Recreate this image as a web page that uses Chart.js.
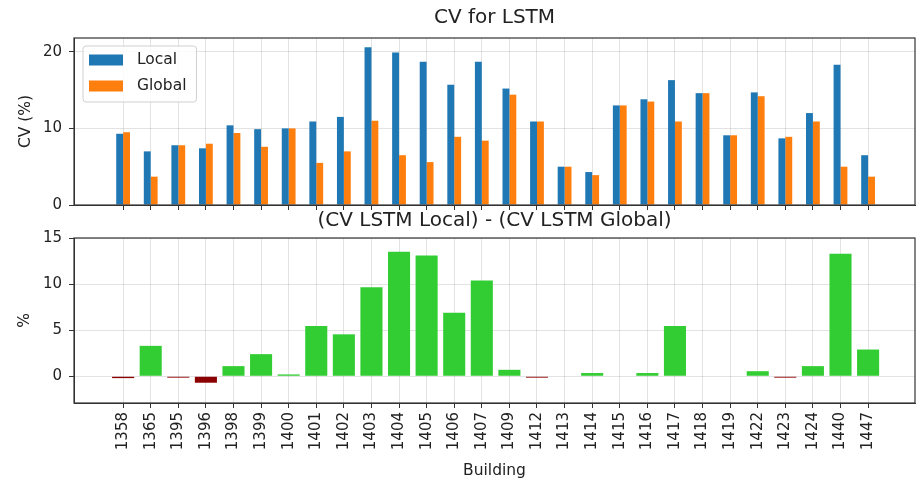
<!DOCTYPE html>
<html>
<head>
<meta charset="utf-8">
<script src="https://cdn.jsdelivr.net/npm/chart.js@4.4.1/dist/chart.umd.min.js"></script>
<style>
  body { margin: 0; background: #fff; }
  #wrap { position: relative; width: 918px; height: 484px; }
  canvas { position: absolute; left: 0; }
  #cvChart { top: 0; }
  #diffChart { top: 208px; }
</style>
</head>
<body>
<div id="wrap">
  <canvas id="cvChart" width="918" height="210"></canvas>
  <canvas id="diffChart" width="918" height="276"></canvas>
</div>
<script>
// Buildings on the x axis (shared by both panels)
const buildings = ['1358', '1365', '1395', '1396', '1398', '1399', '1400', '1401', '1402', '1403',
  '1404', '1405', '1406', '1407', '1409', '1412', '1413', '1414', '1415', '1416',
  '1417', '1418', '1419', '1422', '1423', '1424', '1440', '1447'];

// CV (%)
const cvLocal = [9.3, 7.0, 7.8, 7.4, 10.4, 9.9, 10.0, 10.9, 11.5, 20.6,
  19.9, 18.7, 15.7, 18.7, 15.2, 10.9, 5.0, 4.3, 13.0, 13.8,
  16.3, 14.6, 9.1, 14.7, 8.7, 12.0, 18.3, 6.5];
const cvGlobal = [9.5, 3.7, 7.8, 8.0, 9.4, 7.6, 10.0, 5.5, 7.0, 11.0,
  6.5, 5.6, 8.9, 8.4, 14.4, 10.9, 5.0, 3.9, 13.0, 13.5,
  10.9, 14.6, 9.1, 14.2, 8.9, 10.9, 5.0, 3.7];

// Local - Global
const cvDiff = [-0.2, 3.3, -0.15, -0.7, 1.1, 2.4, 0.2, 5.45, 4.55, 9.65,
  13.5, 13.1, 6.9, 10.4, 0.7, -0.15, 0, 0.35, 0, 0.35,
  5.45, 0, 0, 0.55, -0.15, 1.1, 13.3, 2.9];

const cvTicks = [0, 10, 20];
const diffTicks = [0, 5, 10, 15];

Chart.defaults.font.family = "'DejaVu Sans', sans-serif";
Chart.defaults.color = '#222';

const gridColor = 'rgba(0,0,0,0.11)';
const spineColor = '#333';
const xMin = -1.78, xMax = 28.7;

function indexTicks(scale) {
  scale.ticks = buildings.map((b, i) => ({ value: i }));
}
function fixedTicks(list) {
  return scale => { scale.ticks = list.map(v => ({ value: v })); };
}
function noOverhang(s) {
  s.paddingTop = 0; s.paddingBottom = 0; s.paddingLeft = 0; s.paddingRight = 0;
}

// matplotlib-like box around the axes
const frame = {
  id: 'frame',
  afterDraw(chart) {
    const { ctx, chartArea: a } = chart;
    ctx.save();
    ctx.strokeStyle = spineColor;
    ctx.lineWidth = 1.2;
    ctx.strokeRect(a.left, a.top, a.right - a.left, a.bottom - a.top);
    ctx.restore();
  }
};

// legend drawn inside the upper-left corner of the plot
const insideLegend = {
  id: 'insideLegend',
  afterDatasetsDraw(chart) {
    const { ctx, chartArea: a } = chart;
    const sets = chart.data.datasets;
    ctx.save();
    ctx.font = "15.5px 'DejaVu Sans', sans-serif";
    const textW = Math.max(...sets.map(d => ctx.measureText(d.label).width));
    const left = a.left + 9, top = a.top + 8;
    const w = 54 + textW + 10, h = 8 + sets.length * 26 - 4;
    ctx.beginPath();
    ctx.roundRect(left, top, w, h, 3);
    ctx.fillStyle = 'rgba(255,255,255,0.85)';
    ctx.fill();
    ctx.strokeStyle = '#d0d0d0';
    ctx.lineWidth = 1;
    ctx.stroke();
    sets.forEach((d, i) => {
      const cy = top + 14 + i * 26;
      ctx.fillStyle = d.backgroundColor;
      ctx.fillRect(left + 6, cy - 5.5, 34, 11);
      ctx.fillStyle = '#222';
      ctx.textBaseline = 'middle';
      ctx.fillText(d.label, left + 54, cy);
    });
    ctx.restore();
  }
};

new Chart(document.getElementById('cvChart'), {
  type: 'bar',
  data: {
    datasets: [
      {
        label: 'Local',
        data: cvLocal.map((v, i) => ({ x: i, y: v })),
        backgroundColor: '#1f77b4',
        borderWidth: 0
      },
      {
        label: 'Global',
        data: cvGlobal.map((v, i) => ({ x: i, y: v })),
        backgroundColor: '#ff7f0e',
        borderWidth: 0
      }
    ]
  },
  options: {
    responsive: false,
    animation: false,
    events: [],
    categoryPercentage: 0.5,
    barPercentage: 1.0,
    layout: { padding: { left: 0, right: 3, top: 0, bottom: 0 } },
    scales: {
      x: {
        type: 'linear',
        min: xMin,
        max: xMax,
        offset: false,
        afterBuildTicks: indexTicks,
        afterFit: s => { s.height = 5; noOverhang(s); },
        ticks: { display: false },
        grid: { color: gridColor, offset: false, tickLength: 5, tickColor: spineColor },
        border: { color: spineColor }
      },
      y: {
        min: 0,
        max: 21.8,
        afterBuildTicks: fixedTicks(cvTicks),
        afterFit: s => { s.width = 74; noOverhang(s); },
        ticks: { padding: 7, font: { size: 15 } },
        grid: { color: gridColor, tickLength: 5, tickColor: spineColor },
        border: { color: spineColor },
        title: {
          display: true,
          text: 'CV (%)',
          font: { size: 15.5 },
          padding: { top: 16.5, bottom: 0 }
        }
      }
    },
    plugins: {
      legend: { display: false },
      tooltip: { enabled: false },
      title: {
        display: true,
        text: 'CV for LSTM',
        fullSize: false,
        font: { size: 20, weight: 'normal' },
        padding: { top: 6, bottom: 8 }
      }
    }
  },
  plugins: [insideLegend, frame]
});

new Chart(document.getElementById('diffChart'), {
  type: 'bar',
  data: {
    datasets: [
      {
        label: '(CV LSTM Local) - (CV LSTM Global)',
        data: cvDiff.map((v, i) => ({ x: i, y: v })),
        backgroundColor: ctx => (ctx.parsed && ctx.parsed.y < 0) ? '#8b0000' : '#32cd32',
        borderWidth: 0
      }
    ]
  },
  options: {
    responsive: false,
    animation: false,
    events: [],
    categoryPercentage: 0.8,
    barPercentage: 1.0,
    layout: { padding: { left: 0, right: 3, top: 0, bottom: 0 } },
    scales: {
      x: {
        type: 'linear',
        min: xMin,
        max: xMax,
        offset: false,
        afterBuildTicks: indexTicks,
        afterFit: s => { s.height = 81; noOverhang(s); },
        ticks: {
          autoSkip: false,
          minRotation: 90,
          maxRotation: 90,
          padding: 4,
          font: { size: 15 },
          callback: (value, index) => buildings[index]
        },
        grid: { color: gridColor, offset: false, tickLength: 5, tickColor: spineColor },
        border: { color: spineColor },
        title: {
          display: true,
          text: 'Building',
          font: { size: 15.5 },
          padding: { top: 0, bottom: 4 }
        }
      },
      y: {
        min: -2.9,
        max: 15,
        afterBuildTicks: fixedTicks(diffTicks),
        afterFit: s => { s.width = 74; noOverhang(s); },
        ticks: { padding: 7, font: { size: 15 } },
        grid: { color: gridColor, tickLength: 5, tickColor: spineColor },
        border: { color: spineColor },
        title: {
          display: true,
          text: '%',
          font: { size: 15.5 },
          padding: { top: 16, bottom: 0 }
        }
      }
    },
    plugins: {
      legend: { display: false },
      tooltip: { enabled: false },
      title: {
        display: true,
        text: '(CV LSTM Local) - (CV LSTM Global)',
        fullSize: false,
        font: { size: 20, weight: 'normal' },
        padding: { top: 1, bottom: 5 }
      }
    }
  },
  plugins: [frame]
});
</script>
</body>
</html>
